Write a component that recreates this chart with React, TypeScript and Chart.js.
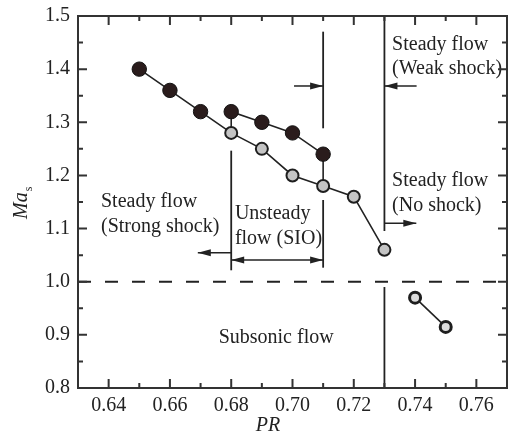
import React, { useEffect, useRef } from "react";
import { Chart, registerables } from "chart.js";
Chart.register(...registerables);

// ---- data ----
const xTickValues = [0.64, 0.66, 0.68, 0.70, 0.72, 0.74, 0.76];
const xMinorValues = [0.65, 0.67, 0.69, 0.71, 0.73, 0.75];
const yTickValues = [0.8, 0.9, 1.0, 1.1, 1.2, 1.3, 1.4, 1.5];
const yMinorValues = [0.85, 0.95, 1.05, 1.15, 1.25, 1.35, 1.45];

const strongPR = [0.65, 0.66, 0.67];
const strongMa = [1.40, 1.36, 1.32];
const upperPR = [0.68, 0.69, 0.70, 0.71];
const upperMa = [1.32, 1.30, 1.28, 1.24];
const lowerPR = [0.68, 0.69, 0.70, 0.71, 0.72, 0.73];
const lowerMa = [1.28, 1.25, 1.20, 1.18, 1.16, 1.06];
const subPR = [0.74, 0.75];
const subMa = [0.97, 0.915];

const sonicLine = 1.0;
const regionLines = [
  { x: 0.68, y1: 1.2466, y2: 1.0215 },
  { x: 0.71, y1: 1.4705, y2: 1.2887 },
  { x: 0.71, y1: 1.1538, y2: 1.0264 },
  { x: 0.73, y1: 1.5, y2: 1.0954 },
  { x: 0.73, y1: 0.99, y2: 0.8 },
];
const arrows = [
  { x1: 0.7005, x2: 0.71, y: 1.3683, both: false },
  { x1: 0.7405, x2: 0.73, y: 1.3683, both: false },
  { x1: 0.68, x2: 0.6691, y: 1.0546, both: false },
  { x1: 0.68, x2: 0.71, y: 1.0409, both: true },
  { x1: 0.73, x2: 0.7404, y: 1.1099, both: false },
];
const regionLabels = [
  { text: "Steady flow", x: 0.7325, y: 1.436 },
  { text: "(Weak shock)", x: 0.7325, y: 1.391 },
  { text: "Steady flow", x: 0.7325, y: 1.180 },
  { text: "(No shock)", x: 0.7325, y: 1.1336 },
  { text: "Steady flow", x: 0.6375, y: 1.1412 },
  { text: "(Strong shock)", x: 0.6375, y: 1.0941 },
  { text: "Unsteady", x: 0.6812, y: 1.1174 },
  { text: "flow (SIO)", x: 0.6812, y: 1.0704 },
  { text: "Subsonic flow", x: 0.6759, y: 0.8841 },
];

const pts = (xs: number[], ys: number[]) => xs.map((x, i) => ({ x, y: ys[i] }));

const SERIF = "'Liberation Serif', 'Times New Roman', serif";
const INK = "#222";

const decorPlugin = {
  id: "decor",
  beforeDatasetsDraw(chart: any) {
    const { ctx, chartArea, scales } = chart;
    const xs = scales.x, ys = scales.y;
    ctx.save();
    ctx.strokeStyle = INK;
    ctx.lineWidth = 2;
    ctx.setLineDash([13, 14]);
    const yy = ys.getPixelForValue(sonicLine);
    ctx.beginPath();
    ctx.moveTo(chartArea.left, yy);
    ctx.lineTo(chartArea.right, yy);
    ctx.stroke();
    ctx.setLineDash([]);
    ctx.lineWidth = 1.8;
    for (const l of regionLines) {
      const px = xs.getPixelForValue(l.x);
      ctx.beginPath();
      ctx.moveTo(px, ys.getPixelForValue(l.y1));
      ctx.lineTo(px, ys.getPixelForValue(l.y2));
      ctx.stroke();
    }
    const head = (tx: number, ty: number, dir: number) => {
      ctx.beginPath();
      ctx.moveTo(tx, ty);
      ctx.lineTo(tx - dir * 13, ty - 3.5);
      ctx.lineTo(tx - dir * 13, ty + 3.5);
      ctx.closePath();
      ctx.fill();
    };
    ctx.fillStyle = INK;
    ctx.lineWidth = 1.5;
    for (const a of arrows) {
      const p1 = xs.getPixelForValue(a.x1);
      const p2 = xs.getPixelForValue(a.x2);
      const py = ys.getPixelForValue(a.y);
      ctx.beginPath();
      ctx.moveTo(p1, py);
      ctx.lineTo(p2, py);
      ctx.stroke();
      const dir = p2 > p1 ? 1 : -1;
      head(p2, py, dir);
      if (a.both) head(p1, py, -dir);
    }
    ctx.font = `20px ${SERIF}`;
    ctx.textAlign = "left";
    ctx.textBaseline = "alphabetic";
    for (const t of regionLabels) {
      ctx.fillText(t.text, xs.getPixelForValue(t.x), ys.getPixelForValue(t.y));
    }
    ctx.restore();
  },
  afterDraw(chart: any) {
    const { ctx, chartArea, scales } = chart;
    const xs = scales.x, ys = scales.y;
    const { left, right, top, bottom } = chartArea;
    ctx.save();
    ctx.strokeStyle = "#333";
    ctx.lineWidth = 2;
    ctx.strokeRect(left, top, right - left, bottom - top);
    const major = 9, minor = 5;
    ctx.beginPath();
    for (const v of xTickValues) {
      const p = xs.getPixelForValue(v);
      ctx.moveTo(p, bottom); ctx.lineTo(p, bottom - major);
      ctx.moveTo(p, top); ctx.lineTo(p, top + major);
    }
    for (const v of xMinorValues) {
      const p = xs.getPixelForValue(v);
      ctx.moveTo(p, bottom); ctx.lineTo(p, bottom - minor);
      ctx.moveTo(p, top); ctx.lineTo(p, top + minor);
    }
    for (const v of yTickValues) {
      const p = ys.getPixelForValue(v);
      ctx.moveTo(left, p); ctx.lineTo(left + major, p);
      ctx.moveTo(right, p); ctx.lineTo(right - major, p);
    }
    for (const v of yMinorValues) {
      const p = ys.getPixelForValue(v);
      ctx.moveTo(left, p); ctx.lineTo(left + minor, p);
      ctx.moveTo(right, p); ctx.lineTo(right - minor, p);
    }
    ctx.stroke();
    ctx.fillStyle = INK;
    ctx.textBaseline = "alphabetic";
    ctx.textAlign = "center";
    ctx.font = `italic 20px ${SERIF}`;
    ctx.fillText("PR", 268, 431);
    ctx.translate(27, 219);
    ctx.rotate(-Math.PI / 2);
    ctx.textAlign = "left";
    ctx.fillText("Ma", 0, 0);
    const w = ctx.measureText("Ma").width;
    ctx.font = `12px ${SERIF}`;
    ctx.fillText("s", w + 1, 5);
    ctx.restore();
  },
};

export default function App() {
  const ref = useRef<HTMLCanvasElement | null>(null);
  useEffect(() => {
    if (!ref.current) return;
    const lineStyle = {
      showLine: true,
      borderColor: INK,
      borderWidth: 1.6,
      pointRadius: 0,
      pointHoverRadius: 0,
      fill: false,
    };
    const chart = new Chart(ref.current, {
      type: "scatter",
      data: {
        datasets: [
          {
            label: "strong",
            data: pts(strongPR, strongMa),
            showLine: false,
            pointRadius: 7.2,
            pointBackgroundColor: "#2a1c1c",
            pointBorderColor: "#111",
            pointBorderWidth: 1,
          },
          {
            label: "upper",
            data: pts(upperPR, upperMa),
            showLine: false,
            pointRadius: 7.2,
            pointBackgroundColor: "#2a1c1c",
            pointBorderColor: "#111",
            pointBorderWidth: 1,
          },
          {
            label: "lower",
            data: pts(lowerPR, lowerMa),
            showLine: false,
            pointRadius: 6,
            pointBackgroundColor: "#c4c4c4",
            pointBorderColor: "#1e1e1e",
            pointBorderWidth: 2,
          },
          {
            label: "subsonic",
            data: pts(subPR, subMa),
            showLine: false,
            pointRadius: 5.5,
            pointBackgroundColor: "#dcdcdc",
            pointBorderColor: "#1e1e1e",
            pointBorderWidth: 3,
          },
          {
            label: "mainPath",
            data: [...pts(strongPR, strongMa), ...pts(lowerPR, lowerMa)],
            ...lineStyle,
          },
          {
            label: "upperPath",
            data: [
              { x: lowerPR[0], y: lowerMa[0] },
              ...pts(upperPR, upperMa),
              { x: lowerPR[3], y: lowerMa[3] },
            ],
            ...lineStyle,
          },
          {
            label: "subPath",
            data: pts(subPR, subMa),
            ...lineStyle,
          },
        ],
      },
      options: {
        animation: false,
        responsive: false,
        maintainAspectRatio: false,
        events: [],
        layout: { autoPadding: false, padding: { top: 16, right: 1, left: 0, bottom: 0 } },
        plugins: { legend: { display: false }, tooltip: { enabled: false }, title: { display: false } },
        scales: {
          x: {
            type: "linear",
            min: 0.63,
            max: 0.77,
            grid: { display: false, drawTicks: false },
            border: { display: false },
            afterBuildTicks: (s: any) => { s.ticks = xTickValues.map((v) => ({ value: v })); },
            afterFit: (s: any) => {
              s.height = 44;
              s.paddingLeft = 0; s.paddingRight = 0; s.paddingTop = 0; s.paddingBottom = 0;
            },
            ticks: {
              padding: 6,
              color: INK,
              font: { family: SERIF, size: 20 },
              callback: (v: any) => Number(v).toFixed(2),
              maxRotation: 0,
              autoSkip: false,
            },
          },
          y: {
            type: "linear",
            min: 0.8,
            max: 1.5,
            grid: { display: false, drawTicks: false },
            border: { display: false },
            afterBuildTicks: (s: any) => { s.ticks = yTickValues.map((v) => ({ value: v })); },
            afterFit: (s: any) => {
              s.width = 78;
              s.paddingLeft = 0; s.paddingRight = 0; s.paddingTop = 0; s.paddingBottom = 0;
            },
            ticks: {
              padding: 8,
              color: INK,
              font: { family: SERIF, size: 20 },
              callback: (v: any) => Number(v).toFixed(1),
              autoSkip: false,
            },
          },
        },
      },
      plugins: [decorPlugin],
    } as any);
    return () => chart.destroy();
  }, []);
  return (
    <div style={{ position: "fixed", left: 0, top: 0, width: 508, height: 432, background: "#fff" }}>
      <canvas ref={ref} width={508} height={432} style={{ display: "block" }} />
    </div>
  );
}
